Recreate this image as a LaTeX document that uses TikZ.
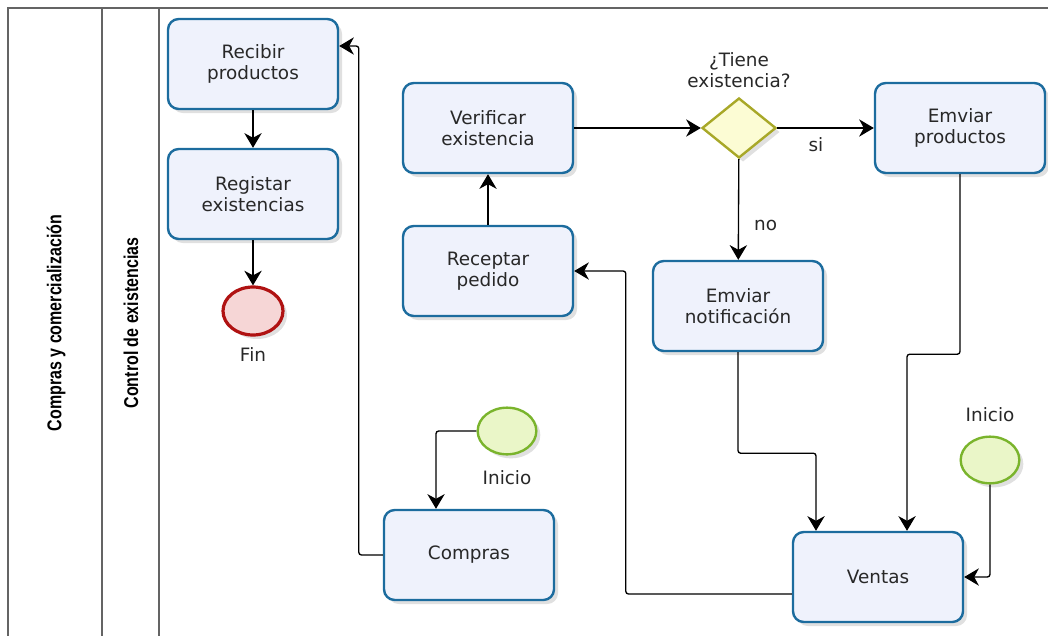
\documentclass[tikz,border=0pt]{standalone}
\usepackage{fontspec}
\setmainfont{DejaVu Sans}
\newfontfamily\lanefont[FakeStretch=0.8]{Liberation Sans}
\usetikzlibrary{shapes.geometric,arrows.meta,calc,shadows}

\definecolor{taskblue}{RGB}{28,108,158}
\definecolor{taskfill}{RGB}{239,242,252}
\definecolor{txtgray}{RGB}{40,40,40}
\definecolor{endred}{RGB}{176,18,18}
\definecolor{endfill}{RGB}{246,214,214}
\definecolor{startgreen}{RGB}{122,180,44}
\definecolor{startfill}{RGB}{234,246,200}
\definecolor{gateolive}{RGB}{168,168,40}
\definecolor{gatefill}{RGB}{252,252,212}
\definecolor{lanegray}{RGB}{100,100,100}

\begin{document}
\begin{tikzpicture}[x=0.75pt,y=0.75pt,yscale=-1,xscale=1,
    txt/.style={font=\fontsize{13.8}{16}\selectfont, text=txtgray, align=center},
    task/.style={txt, draw=taskblue, line width=1.8pt, fill=taskfill, rounded corners=8pt,
        minimum width=127.5pt, minimum height=67.5pt, inner sep=2pt,
        drop shadow={shadow xshift=3pt, shadow yshift=-3pt, fill=black, opacity=0.12}},
    startev/.style={ellipse, draw=startgreen, line width=1.8pt, fill=startfill, minimum width=44pt, minimum height=35pt,
        drop shadow={shadow xshift=3pt, shadow yshift=-3pt, fill=black, opacity=0.12}},
    endev/.style={ellipse, draw=endred, line width=2.4pt, fill=endfill, minimum width=45pt, minimum height=36pt,
        drop shadow={shadow xshift=3pt, shadow yshift=-3pt, fill=black, opacity=0.12}},
    gate/.style={diamond, draw=gateolive, line width=1.8pt, fill=gatefill, inner sep=0pt,
        minimum width=55.5pt, minimum height=45pt,
        drop shadow={shadow xshift=3pt, shadow yshift=-3pt, fill=black, opacity=0.12}},
    flow/.style={draw=black, line width=1pt, rounded corners=2pt, -{Stealth[length=11pt,width=13pt,inset=3.5pt]}},
    lane/.style={draw=lanegray, line width=1.5pt},
    lanelabel/.style={rotate=90, font=\lanefont\bfseries\fontsize{15}{17}\selectfont}]
    \useasboundingbox (0,0) rectangle (1048,635);

    %Pool and lanes
    \draw [lane] (1048,8) -- (8,8) -- (8,640);
    \draw [lane] (102,8) -- (102,640);
    \draw [lane] (159,8) -- (159,640);
    \node [lanelabel] (pool) at (56,323) {Compras y comercialización};
    \node [lanelabel] (lanecontrol) at (131,323) {Control de existencias};

    %Tasks
    \node [task] (recibir) at (253,64) {Recibir\\productos};
    \node [task] (registar) at (253,194) {Registar\\existencias};
    \node [task] (verificar) at (488,128) {Verificar\\existencia};
    \node [task] (receptar) at (488,271) {Receptar\\pedido};
    \node [task] (envprod) at (960,128) {Emviar\\productos};
    \node [task] (envnot) at (738,306) {Emviar\\notificación};
    \node [task] (compras) at (469,555) {Compras};
    \node [task] (ventas) at (878,577) {Ventas};

    %Events and gateway
    \node [endev] (fin) at (253,311) {};
    \node [txt, below=5pt] (finlabel) at (fin.south) {Fin};
    \node [startev] (inicioA) at (507,431) {};
    \node [txt, below=8pt] (inicioAlabel) at (inicioA.south) {Inicio};
    \node [startev] (inicioB) at (990,460) {};
    \node [txt, above=7pt] (inicioBlabel) at (inicioB.north) {Inicio};
    \node [gate] (decision) at (739,128) {};
    \node [txt, above=3pt] (question) at (decision.north) {¿Tiene\\existencia?};

    %Flows
    \draw [flow] (recibir) -- (registar);
    \draw [flow] (registar) -- (fin);
    \draw [flow] (compras.west) -- ++(-24,0) |- ($(recibir.east)+(0,-18)$);
    \draw [flow] (inicioA.west) -| ($(compras.north)+(-33,0)$);
    \draw [flow] (receptar) -- (verificar);
    \draw [flow] (verificar) -- (decision);
    \draw [flow] (decision) -- node [txt, below=3pt, pos=0.4] {si} (envprod);
    \draw [flow] (decision) -- node [txt, right=8pt, pos=0.66] {no} (envnot);
    \draw [flow] (envnot.south) -- ++(0,101) -| ($(ventas.north)+(-62,0)$);
    \draw [flow] (envprod.south) -- ++(0,180) -| ($(ventas.north)+(29,0)$);
    \draw [flow] (inicioB.south) |- (ventas.east);
    \draw [flow] ($(ventas.west)+(0,17)$) -- ++(-166,0) |- (receptar.east);

\end{tikzpicture}
\end{document}
